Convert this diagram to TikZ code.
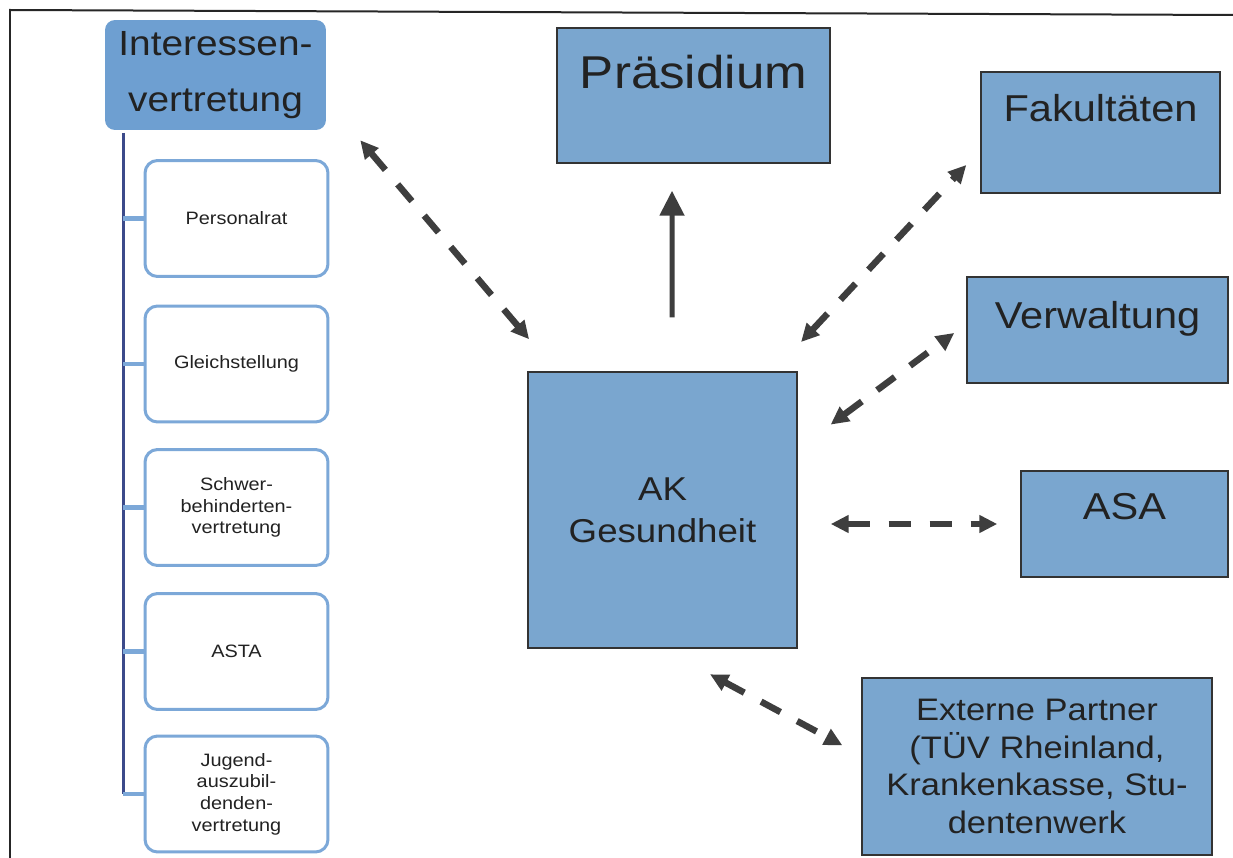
\documentclass[tikz,border=0pt]{standalone}
\usepackage{fontspec}
\setmainfont{Liberation Sans}
\newfontfamily\boxfont[FakeStretch=1.11]{Liberation Sans}
\usetikzlibrary{arrows.meta}

\definecolor{boxblue}{HTML}{7AA6CF}
\definecolor{headblue}{HTML}{6E9FD1}
\definecolor{rimblue}{HTML}{7CA8D8}
\definecolor{treenavy}{HTML}{3C4A8A}
\definecolor{arrowgray}{HTML}{3E3E3E}
\definecolor{inkgray}{HTML}{222222}

\tikzset{
  bigbox/.style={draw=black!80, line width=0.03cm, fill=boxblue, text=inkgray, align=center, inner sep=0pt},
  headbox/.style={fill=headblue, rounded corners=0.2cm, text=inkgray, align=center, inner sep=0pt,
    minimum width=4.42cm, minimum height=2.2cm, font=\boxfont\fontsize{19.9}{31.9}\selectfont},
  smallbox/.style={draw=rimblue, line width=0.06cm, fill=white, rounded corners=0.25cm, text=inkgray, align=center,
    minimum width=3.66cm, minimum height=2.32cm, inner sep=0pt, font=\boxfont\fontsize{10.2}{12.3}\selectfont},
  boxtext/.style={text=inkgray, align=center, inner sep=0pt, font=\boxfont\fontsize{21.3}{25}\selectfont},
  dasharrow/.style={draw=arrowgray, line width=0.13cm, dash pattern=on 0.44cm off 0.38cm,
    {Triangle[length=0.36cm,width=0.34cm]}-{Triangle[length=0.36cm,width=0.34cm]}},
  solidarrow/.style={draw=arrowgray, line width=0.1cm, -{Triangle[length=0.5cm,width=0.48cm]}},
  treeline/.style={draw=treenavy, line width=0.06cm},
  treetick/.style={draw=rimblue, line width=0.09cm}
}

\begin{document}
\begin{tikzpicture}[x=0.02cm,y=-0.02cm]
\useasboundingbox (0,0) rectangle (1233,858);
\fill[white] (0,0) rectangle (1233,858);

% frame of the scanned page
\draw[line width=0.04cm, black!85] (10,858) -- (10,10) -- (1233,15);

% left column
\node[headbox] (inter) at (215.5,75) {Interessen-\\vertretung};
\node[smallbox] (pers) at (236.5,218.5) {Personalrat};
\node[smallbox] (gleich) at (236.5,364) {Gleichstellung};
\node[smallbox] (schwer) at (236.5,507.5) {Schwer-\\behinderten-\\vertretung};
\node[smallbox] (asta) at (236.5,651.5) {ASTA};
\node[smallbox] (jugend) at (236.5,794) {Jugend-\\auszubil-\\denden-\\vertretung};

\coordinate (tree) at (123,133);
\draw[treeline] (tree) -- (tree |- jugend.west);
\foreach \n in {pers,gleich,schwer,asta,jugend}
  \draw[treetick] (\n.west) -- (\n.west -| tree);

% right part
\node[bigbox, minimum width=5.38cm, minimum height=5.52cm,
  font=\boxfont\fontsize{18.8}{24}\selectfont] (ak) at (662.5,510) {AK\\Gesundheit};
\node[bigbox, minimum width=5.46cm, minimum height=2.7cm,
  label={[boxtext, font=\boxfont\fontsize{26.2}{30}\selectfont, yshift=0.47cm]center:Präsidium}] (prae) at (693.5,95.5) {};
\node[bigbox, minimum width=4.78cm, minimum height=2.42cm,
  label={[boxtext, yshift=0.49cm]center:Fakultäten}] (fak) at (1100.5,132.5) {};
\node[bigbox, minimum width=5.22cm, minimum height=2.12cm,
  label={[boxtext, yshift=0.22cm]center:Verwaltung}] (verw) at (1097.5,330) {};
\node[bigbox, minimum width=4.14cm, minimum height=2.12cm,
  label={[boxtext, yshift=0.35cm]center:ASA}] (asa) at (1124.5,524) {};
\node[bigbox, minimum width=7cm, minimum height=3.54cm,
  font=\boxfont\fontsize{17.7}{21.3}\selectfont] (ext) at (1037,766.5)
  {Externe Partner\\(TÜV Rheinland,\\Krankenkasse, Stu-\\dentenwerk};

% connectors
\draw[dasharrow, shorten <=0.26cm, shorten >=0.84cm] ([xshift=0.51cm]inter.south east) -- ([xshift=0.58cm]ak.north west);
\draw[solidarrow, shorten <=1.08cm, shorten >=0.54cm] ([xshift=0.19cm]ak.north) -- ([xshift=-0.43cm]prae.south);
\draw[dasharrow, shorten <=0.8cm, shorten >=0.41cm] ([xshift=-0.48cm]ak.north east) -- ([yshift=-0.35cm]fak.west);
\draw[dasharrow, shorten <=0.82cm, shorten >=0.3cm] ([yshift=1.22cm]ak.east) -- ([yshift=0.12cm]verw.west);
\draw[dasharrow, shorten <=0.66cm, shorten >=0.46cm] (ak.east |- asa.west) -- (asa.west);
\draw[dasharrow, shorten <=1.08cm, shorten >=0.43cm] (ak.south) -- ([yshift=0.22cm]ext.west);
\end{tikzpicture}
\end{document}
